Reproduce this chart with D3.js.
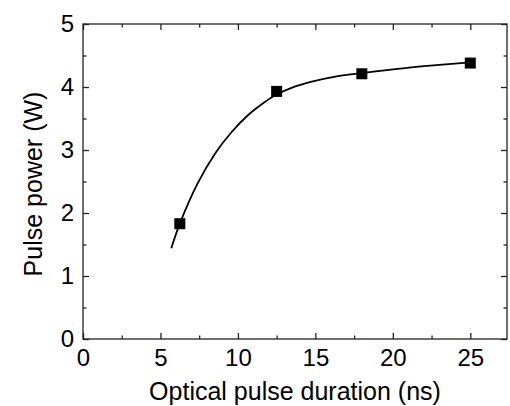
<!DOCTYPE html>
<html>
<head>
<meta charset="utf-8">
<script src="https://cdn.jsdelivr.net/npm/d3@7"></script>
<style>
  body { margin: 0; background: #fff; }
  text { font-family: "Liberation Sans", Arial, sans-serif; fill: #000; }
</style>
</head>
<body>
<div id="chart"></div>
<script>
// measured points
const duration = [6.25, 12.5, 18.0, 25.0];
const power = [1.83, 3.93, 4.21, 4.38];
// fitted curve
const fitX = [5.7, 6.28, 7.4, 8.54, 9.61, 10.68, 11.78, 12.41, 13.5, 14.7, 16.2, 18.0, 20.8, 23.0, 25.0];
const fitY = [1.44, 1.85, 2.47, 2.95, 3.29, 3.56, 3.77, 3.87, 3.99, 4.08, 4.16, 4.22, 4.30, 4.35, 4.39];
const xTicks = [0, 5, 10, 15, 20, 25];
const xMinor = [2.5, 7.5, 12.5, 17.5, 22.5];
const yTicks = [0, 1, 2, 3, 4, 5];
const yMinor = [0.5, 1.5, 2.5, 3.5, 4.5];

const svgWidth = 510, svgHeight = 406;
const margin = { top: 24, right: 3, bottom: 67, left: 83 };
const width = svgWidth - margin.left - margin.right;
const height = svgHeight - margin.top - margin.bottom;

const svg = d3.select("#chart").append("svg")
  .attr("width", svgWidth)
  .attr("height", svgHeight)
  .append("g")
  .attr("transform", "translate(" + margin.left + "," + margin.top + ")");

const x = d3.scaleLinear().domain([0, 27.37]).range([0, width]);
const y = d3.scaleLinear().domain([0, 5]).range([height, 0]);

// axes with inward ticks
function styleAxis(g) {
  g.select(".domain").remove();
  g.selectAll("line").attr("stroke", "#222").attr("stroke-width", 1.3);
  g.selectAll("text").style("font-size", "24px").attr("fill", "#000");
}

svg.append("g").attr("transform", "translate(0," + height + ")")
  .call(d3.axisBottom(x).tickValues(xTicks).tickSize(-6).tickPadding(8).tickFormat(d3.format("d")))
  .call(styleAxis)
  .selectAll("text").attr("dy", "0.8em");
svg.append("g").attr("transform", "translate(0," + height + ")")
  .call(d3.axisBottom(x).tickValues(xMinor).tickSize(-3.5).tickFormat(""))
  .call(styleAxis);
svg.append("g")
  .call(d3.axisTop(x).tickValues(xTicks).tickSize(-6).tickFormat(""))
  .call(styleAxis);
svg.append("g")
  .call(d3.axisTop(x).tickValues(xMinor).tickSize(-3.5).tickFormat(""))
  .call(styleAxis);

svg.append("g")
  .call(d3.axisLeft(y).tickValues(yTicks).tickSize(-6).tickPadding(9).tickFormat(d3.format("d")))
  .call(styleAxis);
svg.append("g")
  .call(d3.axisLeft(y).tickValues(yMinor).tickSize(-3.5).tickFormat(""))
  .call(styleAxis);
svg.append("g").attr("transform", "translate(" + width + ",0)")
  .call(d3.axisRight(y).tickValues(yTicks).tickSize(-6).tickFormat(""))
  .call(styleAxis);
svg.append("g").attr("transform", "translate(" + width + ",0)")
  .call(d3.axisRight(y).tickValues(yMinor).tickSize(-3.5).tickFormat(""))
  .call(styleAxis);

// frame
svg.append("rect")
  .attr("width", width)
  .attr("height", height)
  .attr("fill", "none")
  .attr("stroke", "#222")
  .attr("stroke-width", 1.3);

// fit line
const fit = fitX.map((d, i) => ({ x: d, y: fitY[i] }));
const line = d3.line()
  .x(d => x(d.x))
  .y(d => y(d.y))
  .curve(d3.curveCatmullRom.alpha(0.5));
svg.append("path")
  .datum(fit)
  .attr("fill", "none")
  .attr("stroke", "#000")
  .attr("stroke-width", 1.8)
  .attr("d", line);

// squares
const s = 11;
svg.selectAll(".pt")
  .data(duration.map((d, i) => ({ x: d, y: power[i] })))
  .enter().append("rect")
  .attr("class", "pt")
  .attr("x", d => x(d.x) - s / 2)
  .attr("y", d => y(d.y) - s / 2)
  .attr("width", s)
  .attr("height", s)
  .attr("fill", "#000");

// axis titles
svg.append("text")
  .attr("x", width / 2)
  .attr("y", height + 61)
  .attr("text-anchor", "middle")
  .style("font-size", "25px")
  .text("Optical pulse duration (ns)");

svg.append("text")
  .attr("transform", "rotate(-90)")
  .attr("x", -160)
  .attr("y", -41)
  .attr("text-anchor", "middle")
  .style("font-size", "25px")
  .text("Pulse power (W)");
</script>
</body>
</html>
